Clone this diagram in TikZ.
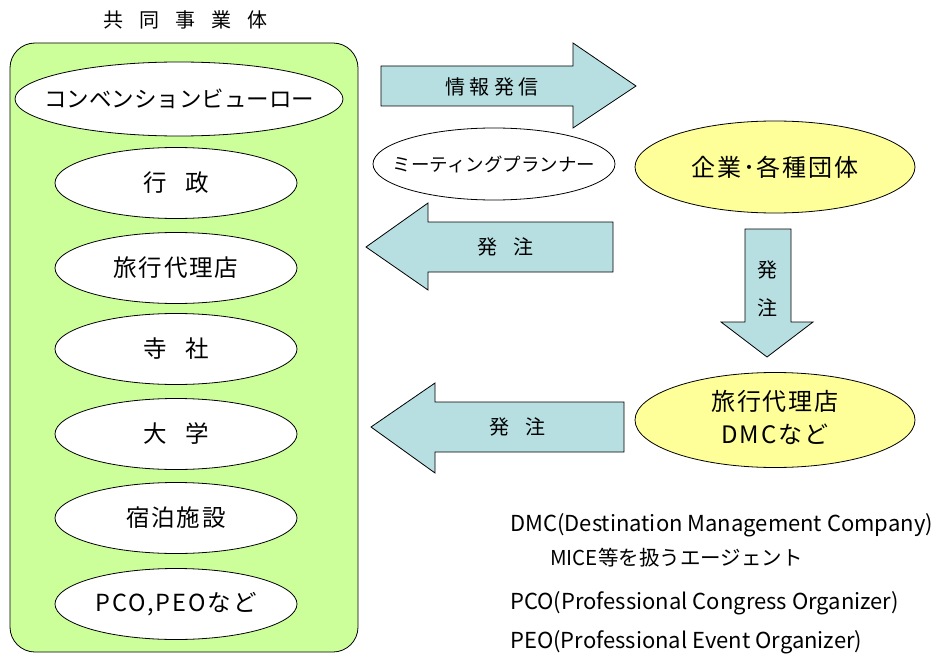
\documentclass[tikz,border=0pt]{standalone}
\usepackage{fontspec}
\setmainfont{Noto Sans CJK JP}
\usetikzlibrary{shapes.geometric}
\definecolor{grn}{HTML}{CCFF99}
\definecolor{arrowblue}{HTML}{B7DFE1}
\definecolor{ylw}{HTML}{FFFF99}
\newcommand{\zb}[1]{\makebox[0pt]{#1}}
\newcommand{\wide}{\addfontfeatures{LetterSpace=8}}
\begin{document}
\begin{tikzpicture}[x=1pt,y=-1pt,
  oval/.style={ellipse,draw=black,line width=0.8pt,fill=white,minimum width=242pt,minimum height=71pt,inner sep=0pt,font=\fontsize{23.5}{26}\selectfont\wide},
  yoval/.style={ellipse,draw=black,line width=0.8pt,fill=ylw,minimum width=280pt,inner sep=0pt,font=\fontsize{24}{33}\selectfont\wide},
  arr/.style={draw=black,line width=0.8pt,fill=arrowblue},
  lbl/.style={inner sep=0pt,font=\fontsize{20}{22}\selectfont},
  note/.style={inner sep=0pt,anchor=base west,font=\fontsize{22}{24}\selectfont}]
\useasboundingbox (0,0) rectangle (933,655);
% group box
\draw[fill=grn,line width=0.8pt,rounded corners=25pt] (10,43) rectangle (358,652);
\node[inner sep=0pt,font=\fontsize{20}{24}\selectfont] (title) at (185,20) {共\hspace{0.8em}同\hspace{0.8em}事\hspace{0.8em}業\hspace{0.8em}体};
% left ovals
\node[oval,minimum width=328pt,minimum height=74pt,font=\fontsize{22.5}{26}\selectfont] (cvb) at (179,99) {\zb{コンベンションビューロー}};
\node[oval] (gov) at (176,183) {\zb{行\hspace{0.8em}政}};
\node[oval] (ta) at (176,268) {\zb{旅行代理店}};
\node[oval] (temple) at (176,349) {\zb{寺\hspace{0.8em}社}};
\node[oval] (univ) at (176,434) {\zb{大\hspace{0.8em}学}};
\node[oval] (hotel) at (176,518) {\zb{宿泊施設}};
\node[oval] (pco) at (176,604) {\zb{PCO,PEOなど}};
% top arrow
\draw[arr] (381,66) -- (573,66) -- (573,43) -- (636,86) -- (573,128) -- (573,106) -- (381,106) -- cycle;
\node[lbl] (info) at (492,87) {情\hspace{0.22em}報\hspace{0.22em}発\hspace{0.22em}信};
% meeting planner
\node[ellipse,draw=black,line width=0.8pt,fill=white,minimum width=242pt,minimum height=72pt,inner sep=0pt,font=\fontsize{18.5}{20}\selectfont] (mp) at (494,164) {\zb{ミーティングプランナー}};
% yellow ovals
\node[yoval,minimum height=92pt] (corp) at (775,167) {\zb{企業･各種団体}};
\node[yoval,minimum height=95pt] (dmc) at (775,420) {\zb{\begin{tabular}{@{}c@{}}旅行代理店\\DMCなど\end{tabular}}};
% left arrow 1
\draw[arr] (613,222) -- (428,222) -- (428,203) -- (366,247) -- (428,290) -- (428,272) -- (613,272) -- cycle;
\node[lbl] (ord1) at (505,247) {発\hspace{0.8em}注};
% down arrow
\draw[arr] (745,229) -- (791,229) -- (791,322) -- (813,322) -- (767,357) -- (721,322) -- (745,322) -- cycle;
\node[lbl,align=center,font=\fontsize{20}{38}\selectfont] (ord2) at (767,289) {発\\注};
% left arrow 2
\draw[arr] (624,402) -- (435,402) -- (435,383) -- (371,427) -- (435,473) -- (435,452) -- (624,452) -- cycle;
\node[lbl] (ord3) at (517,427) {発\hspace{0.8em}注};
% notes
\node[note] (n1) at (510,531) {DMC(Destination Management Company)};
\node[note,font=\fontsize{20.5}{24}\selectfont] (n2) at (550,565) {MICE等を扱うエージェント};
\node[note] (n3) at (510,609) {PCO(Professional Congress Organizer)};
\node[note] (n4) at (510,648) {PEO(Professional Event Organizer)};
\end{tikzpicture}
\end{document}
